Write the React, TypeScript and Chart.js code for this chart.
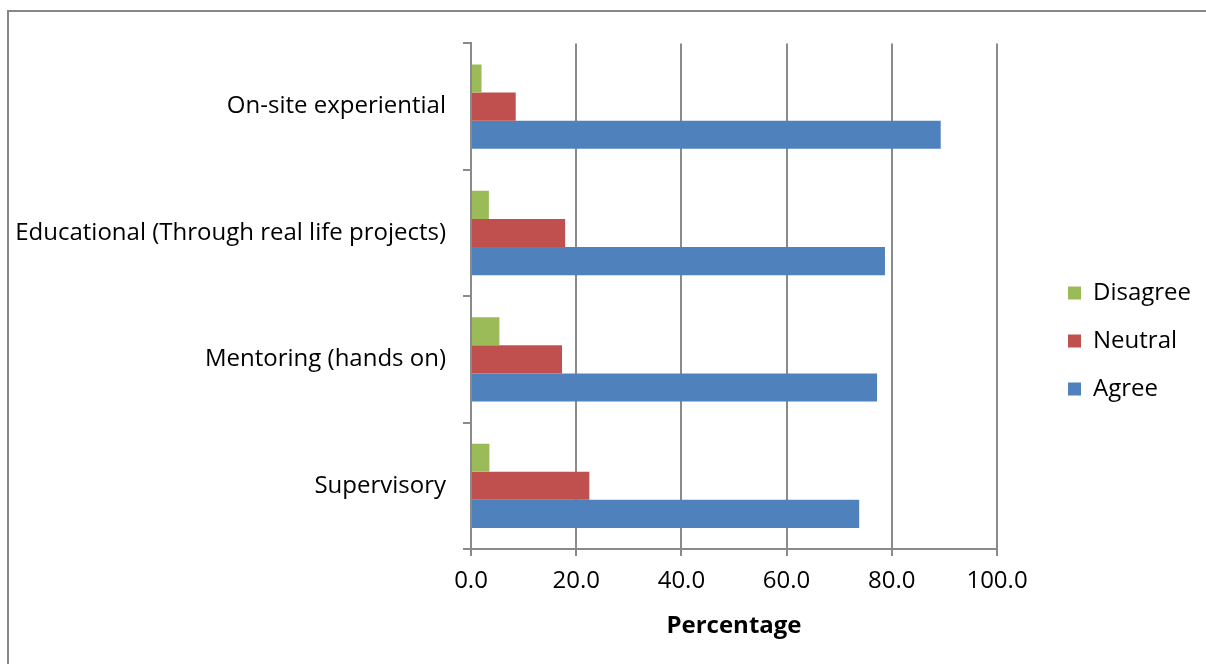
import React, { useEffect, useRef } from "react";
import { Chart, registerables } from "chart.js";

Chart.register(...registerables);

const categories = [
  "On-site experiential",
  "Educational (Through real life projects)",
  "Mentoring (hands on)",
  "Supervisory",
];
const disagree = [2.0, 3.4, 5.4, 3.5];
const neutral = [8.5, 17.9, 17.3, 22.5];
const agree = [89.3, 78.7, 77.2, 73.8];
const xTickValues = [0, 20, 40, 60, 80, 100];

const FONT = "'Open Sans', sans-serif";
const FS = 24;
const GRID = "#8a8a8a";

const legendPlacer = {
  id: "legendPlacer",
  beforeLayout(chart: any) {
    const lg = chart.legend;
    if (lg && !lg.__patched) {
      const orig = lg.fit;
      lg.fit = function (this: any) {
        orig.call(this);
        this.width = 208;
      };
      lg.__patched = true;
    }
  },
  afterLayout(chart: any) {
    const lg = chart.legend;
    if (lg) {
      const w = lg.width;
      lg.left = 1035;
      lg.right = 1035 + w;
    }
  },
};

export default function App() {
  const ref = useRef<HTMLCanvasElement | null>(null);
  useEffect(() => {
    if (!ref.current) return;
    const chart = new Chart(ref.current, {
      type: "bar",
      data: {
        labels: categories,
        datasets: [
          { label: "Disagree", data: disagree, backgroundColor: "#9BBB59" },
          { label: "Neutral", data: neutral, backgroundColor: "#C0504D" },
          { label: "Agree", data: agree, backgroundColor: "#4F81BD" },
        ],
      },
      plugins: [legendPlacer],
      options: {
        indexAxis: "y",
        animation: false,
        responsive: false,
        maintainAspectRatio: false,
        datasets: { bar: { barPercentage: 1, categoryPercentage: 0.667 } },
        layout: { padding: { top: 28, right: 0, bottom: 0, left: 0 } },
        plugins: {
          tooltip: { enabled: false },
          legend: {
            position: "right",
            labels: {
              boxWidth: 13,
              boxHeight: 13,
              padding: 24,
              color: "#000",
              font: { family: FONT, size: FS },
            },
          },
        },
        scales: {
          x: {
            min: 0,
            max: 100,
            afterBuildTicks: (s: any) => {
              s.ticks = xTickValues.map((v) => ({ value: v }));
            },
            afterFit: (s: any) => {
              s.height = 93;
            },
            ticks: {
              color: "#000",
              font: { family: FONT, size: FS },
              padding: 11,
              callback: (v: any) => Number(v).toFixed(1),
            },
            grid: { color: GRID, lineWidth: 2, tickLength: 7 },
            border: { color: GRID, width: 2 },
            title: {
              display: true,
              text: "Percentage",
              color: "#000",
              font: { family: FONT, size: FS, weight: "bold" },
              padding: { top: 0, bottom: 1 },
            },
          },
          y: {
            afterFit: (s: any) => {
              s.width = 462;
            },
            ticks: {
              color: "#000",
              font: { family: FONT, size: FS },
              padding: 17,
            },
            grid: {
              drawOnChartArea: false,
              offset: true,
              color: GRID,
              lineWidth: 2,
              tickLength: 8,
            },
            border: { color: GRID, width: 2 },
          },
        },
      },
    });
    return () => chart.destroy();
  }, []);
  return (
    <div
      style={{
        position: "fixed",
        left: 7,
        top: 10,
        right: -20,
        height: 700,
        borderTop: "2px solid #878787",
        borderLeft: "2px solid #878787",
        background: "#fff",
      }}
    >
      <canvas ref={ref} width={1196} height={630} style={{ display: "block" }} />
    </div>
  );
}
